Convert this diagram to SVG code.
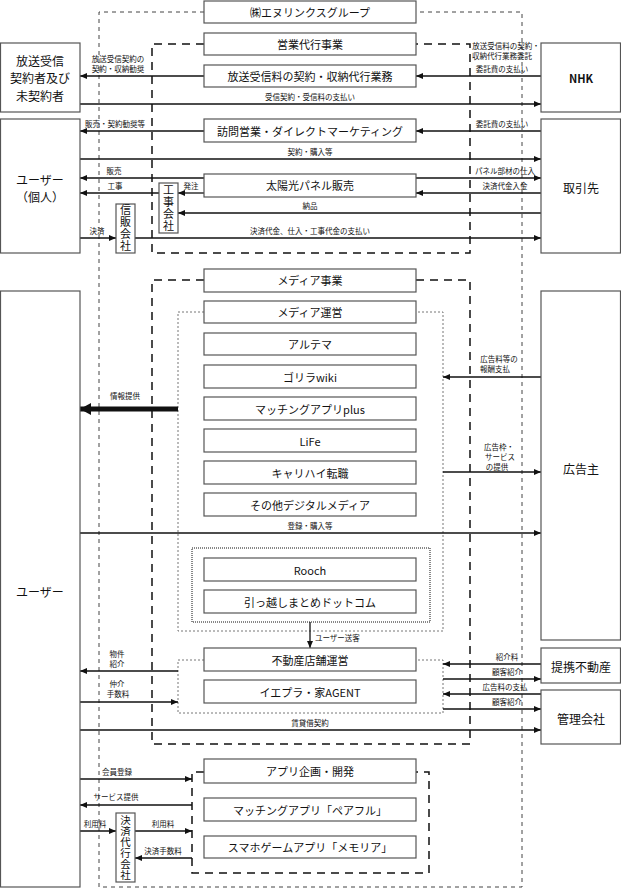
<svg xmlns="http://www.w3.org/2000/svg" width="621" height="889" viewBox="0 0 621 889">
<style>
text{font-family:"Noto Sans CJK JP","Noto Sans",sans-serif;fill:#111}
.bx{fill:#fff;stroke:#555;stroke-width:1.2}
.bt{font-size:11px;text-anchor:middle;dominant-baseline:central}
.st{font-size:12px;text-anchor:middle;dominant-baseline:central}
.vt{font-size:11px;text-anchor:middle;writing-mode:vertical-rl;letter-spacing:1px}
.vs{font-size:10.5px;text-anchor:middle;writing-mode:vertical-rl;letter-spacing:0.5px}
.lb{font-size:7.5px;text-anchor:middle}
.ls{font-size:7.5px;text-anchor:start}
.ln{stroke:#111;stroke-width:1.3;fill:none}
.ar{marker-end:url(#a)}
.g0{stroke:#444;stroke-width:1;fill:none;stroke-dasharray:4 4}
.g1{stroke:#111;stroke-width:1.5;fill:none;stroke-dasharray:8 6}
.g2{stroke:#777;stroke-width:1;fill:none;stroke-dasharray:2 2}
.g3{stroke:#111;stroke-width:1;fill:none;stroke-dasharray:1 1}
</style>
<defs>
<marker id="a" markerUnits="userSpaceOnUse" markerWidth="7" markerHeight="6" refX="7" refY="3" orient="auto"><path d="M0,0 L7,3 L0,6 z" fill="#111"/></marker>
<marker id="b" markerUnits="userSpaceOnUse" markerWidth="12" markerHeight="12" refX="11" refY="6" orient="auto"><path d="M0,0 L11,6 L0,12 z" fill="#111"/></marker>
</defs>
<rect width="621" height="889" fill="#fff"/>

<g id="groups">
<path class="g0" d="M204,12 H99 V887 H522 V12 H416"/>
<path class="g1" d="M204,44 H152 V253 H470 V44 H416"/>
<path class="g1" d="M204,280 H152 V744 H470 V280 H416"/>
<path class="g2" d="M204,312 H178 V631 H443 V312 H416"/>
<rect class="g3" x="192" y="548" width="238" height="74"/>
<path class="g2" d="M204,660 H178 V713 H443 V660 H416"/>
<path class="g1" d="M204,772 H192 V873 H429 V772 H416"/>
</g>

<g id="connectors">
<path class="ln ar" d="M204,76 H80"/>
<path class="ln ar" d="M541,76 H416"/>
<path class="ln ar" d="M80,104 H541"/>
<path class="ln ar" d="M204,131 H80"/>
<path class="ln ar" d="M541,131 H416"/>
<path class="ln ar" d="M80,159 H541"/>
<path class="ln ar" d="M204,178 H80"/>
<path class="ln ar" d="M159,193 H80"/>
<path class="ln ar" d="M204,193 H178"/>
<path class="ln ar" d="M416,178 H541"/>
<path class="ln ar" d="M541,193 H416"/>
<path class="ln ar" d="M541,213 H178"/>
<path class="ln ar" d="M80,238 H116"/>
<path class="ln ar" d="M135,238 H541"/>
<path d="M178,409 H80" stroke="#111" stroke-width="5" fill="none" marker-end="url(#b)"/>
<path class="ln ar" d="M541,377 H443"/>
<path class="ln ar" d="M443,472 H541"/>
<path class="ln ar" d="M80,533 H541"/>
<path class="ln ar" d="M310,622 V648"/>
<path class="ln ar" d="M178,671 H80"/>
<path class="ln ar" d="M80,702 H178"/>
<path class="ln ar" d="M541,664 H443"/>
<path class="ln ar" d="M443,679 H541"/>
<path class="ln ar" d="M541,694 H443"/>
<path class="ln ar" d="M443,709 H541"/>
<path class="ln ar" d="M80,730 H541"/>
<path class="ln ar" d="M80,779 H192"/>
<path class="ln ar" d="M192,805 H80"/>
<path class="ln ar" d="M80,831 H116"/>
<path class="ln ar" d="M135,831 H192"/>
<path class="ln ar" d="M192,858 H135"/>
</g>

<g id="labels">
<text class="lb" x="118" y="62">放送受信契約の<tspan x="118" dy="10">契約・収納勧奨</tspan></text>
<text class="lb" x="506" y="49">放送受信料の契約・<tspan x="502" dy="10">収納代行業務委託</tspan></text>
<text class="lb" x="502" y="72">委託費の支払い</text>
<text class="lb" x="310" y="100">受信契約・受信料の支払い</text>
<text class="lb" x="115" y="127">販売・契約勧奨等</text>
<text class="lb" x="502" y="127">委託費の支払い</text>
<text class="lb" x="310" y="155">契約・購入等</text>
<text class="lb" x="114" y="174">販売</text>
<text class="lb" x="115" y="189">工事</text>
<text class="lb" x="191" y="189">発注</text>
<text class="lb" x="505" y="174">パネル部材の仕入</text>
<text class="lb" x="505" y="189">決済代金入金</text>
<text class="lb" x="310" y="209">納品</text>
<text class="lb" x="97" y="234">決済</text>
<text class="lb" x="310" y="234">決済代金、仕入・工事代金の支払い</text>
<text class="lb" x="125" y="399">情報提供</text>
<text class="lb" x="499" y="362">広告料等の<tspan x="495" dy="10">報酬支払</tspan></text>
<text class="lb" x="499" y="450">広告枠・<tspan x="500" dy="10">サービス</tspan><tspan x="497" dy="10">の提供</tspan></text>
<text class="lb" x="310" y="529">登録・購入等</text>
<text class="ls" x="315" y="641">ユーザー送客</text>
<text class="lb" x="117" y="657">物件<tspan x="117" dy="10">紹介</tspan></text>
<text class="lb" x="117" y="687">仲介<tspan x="118" dy="10">手数料</tspan></text>
<text class="lb" x="507" y="660">紹介料</text>
<text class="lb" x="507" y="675">顧客紹介</text>
<text class="lb" x="505" y="690">広告料の支払</text>
<text class="lb" x="507" y="705">顧客紹介</text>
<text class="lb" x="310" y="726">賃貸借契約</text>
<text class="lb" x="117" y="775">会員登録</text>
<text class="lb" x="116" y="800">サービス提供</text>
<text class="lb" x="95" y="827">利用料</text>
<text class="lb" x="163" y="827">利用料</text>
<text class="lb" x="163" y="854">決済手数料</text>
</g>

<g id="n-group"><rect class="bx" x="204" y="1" width="212" height="22"/><text class="bt" x="310" y="12">㈱エヌリンクスグループ</text></g>
<g id="n-eigyo"><rect class="bx" x="204" y="33" width="212" height="22"/><text class="bt" x="310" y="44">営業代行事業</text></g>
<g id="n-hoso"><rect class="bx" x="204" y="65" width="212" height="22"/><text class="bt" x="310" y="76">放送受信料の契約・収納代行業務</text></g>
<g id="n-homon"><rect class="bx" x="204" y="119" width="212" height="23"/><text class="bt" x="310" y="131">訪問営業・ダイレクトマーケティング</text></g>
<g id="n-taiyo"><rect class="bx" x="204" y="174" width="212" height="23"/><text class="bt" x="310" y="185">太陽光パネル販売</text></g>
<g id="n-media"><rect class="bx" x="204" y="269" width="212" height="23"/><text class="bt" x="310" y="280">メディア事業</text></g>
<g id="n-unei"><rect class="bx" x="204" y="301" width="212" height="22"/><text class="bt" x="310" y="312">メディア運営</text></g>
<g id="n-altema"><rect class="bx" x="204" y="333" width="212" height="22"/><text class="bt" x="310" y="344">アルテマ</text></g>
<g id="n-gorira"><rect class="bx" x="204" y="365" width="212" height="23"/><text class="bt" x="310" y="377">ゴリラwiki</text></g>
<g id="n-match"><rect class="bx" x="204" y="397" width="212" height="23"/><text class="bt" x="310" y="409">マッチングアプリplus</text></g>
<g id="n-life"><rect class="bx" x="204" y="429" width="212" height="23"/><text class="bt" x="310" y="441">LiFe</text></g>
<g id="n-career"><rect class="bx" x="204" y="461" width="212" height="23"/><text class="bt" x="310" y="473">キャリハイ転職</text></g>
<g id="n-other"><rect class="bx" x="204" y="493" width="212" height="23"/><text class="bt" x="310" y="505">その他デジタルメディア</text></g>
<g id="n-rooch"><rect class="bx" x="204" y="558" width="212" height="23"/><text class="bt" x="310" y="570">Rooch</text></g>
<g id="n-hikkoshi"><rect class="bx" x="204" y="590" width="212" height="23"/><text class="bt" x="310" y="602">引っ越しまとめドットコム</text></g>
<g id="n-fudosan"><rect class="bx" x="204" y="648" width="212" height="23"/><text class="bt" x="310" y="660">不動産店舗運営</text></g>
<g id="n-iepura"><rect class="bx" x="204" y="680" width="212" height="23"/><text class="bt" x="310" y="692">イエプラ・家AGENT</text></g>
<g id="n-app"><rect class="bx" x="204" y="759" width="212" height="24"/><text class="bt" x="310" y="771">アプリ企画・開発</text></g>
<g id="n-pairful"><rect class="bx" x="204" y="798" width="212" height="23"/><text class="bt" x="310" y="810">マッチングアプリ「ペアフル」</text></g>
<g id="n-memoria"><rect class="bx" x="204" y="836" width="212" height="22"/><text class="bt" x="310" y="847">スマホゲームアプリ「メモリア」</text></g>

<g id="n-keiyakusha"><rect class="bx" x="0.5" y="43" width="79.5" height="69"/><text class="st" x="40" y="60">放送受信</text><text class="st" x="40" y="77.5">契約者及び</text><text class="st" x="40" y="95">未契約者</text></g>
<g id="n-nhk"><rect class="bx" x="541" y="43" width="79.5" height="69"/><text class="bt" x="581" y="78" font-weight="bold">NHK</text></g>
<g id="n-user1"><rect class="bx" x="0.5" y="119" width="79.5" height="134"/><text class="st" x="40" y="179">ユーザー</text><text class="st" x="40" y="196.5">（個人）</text></g>
<g id="n-torihiki"><rect class="bx" x="541" y="119" width="79.5" height="134"/><text class="st" x="581" y="187">取引先</text></g>
<g id="n-koji"><rect class="bx" x="159" y="183" width="19" height="50"/><text class="vt" x="168.5" y="208">工事会社</text></g>
<g id="n-shinpan"><rect class="bx" x="116" y="204" width="19" height="49"/><text class="vt" x="125.5" y="228.5">信販会社</text></g>
<g id="n-user2"><rect class="bx" x="0.5" y="291" width="79.5" height="596"/><text class="st" x="40" y="591">ユーザー</text></g>
<g id="n-kokoku"><rect class="bx" x="541" y="291" width="79.5" height="349"/><text class="st" x="581" y="468">広告主</text></g>
<g id="n-teikei"><rect class="bx" x="541" y="648" width="79.5" height="35"/><text class="st" x="581" y="666">提携不動産</text></g>
<g id="n-kanri"><rect class="bx" x="541" y="690" width="79.5" height="54"/><text class="st" x="581" y="718">管理会社</text></g>
<g id="n-kessai"><rect class="bx" x="116" y="813" width="19" height="69"/><text class="vs" x="125.5" y="847.5">決済代行会社</text></g>
</svg>
